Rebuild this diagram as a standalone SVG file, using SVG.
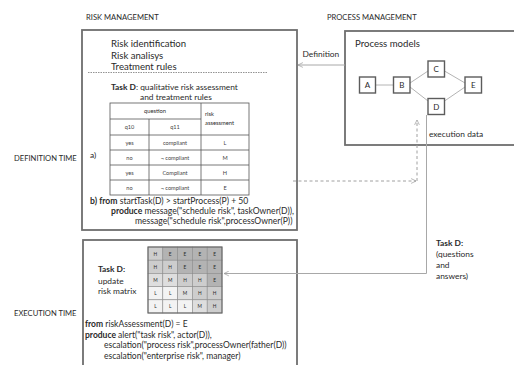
<svg xmlns="http://www.w3.org/2000/svg" width="514" height="365" viewBox="0 0 514 365">
  <defs>
    <style>
      text { font-family: Lato, "Liberation Sans", Arial, sans-serif; fill: #2a2a2a; }
      .cap { font-size: 7.6px; }
      .body { font-size: 9.6px; }
      .code { font-size: 8.6px; }
      .exec { font-size: 8.5px; }
      .small { font-size: 8.4px; }
      .tiny { font-size: 5.8px; text-anchor: middle; }
      .cell { font-size: 5.6px; text-anchor: middle; fill: #444; }
      .b { font-weight: bold; }
      .frame { fill: #fff; stroke: #6e6e6e; stroke-width: 1.8; }
      .node rect { fill: #fff; stroke: #5c5c5c; stroke-width: 1.4; }
      .node text { font-size: 8px; text-anchor: middle; }
      .grid { fill: none; stroke: #555; stroke-width: 0.8; }
      .flow { fill: none; stroke: #a8a8a8; stroke-width: 1; }
      .dash { fill: none; stroke: #a0a0a0; stroke-width: 1; stroke-dasharray: 3 2.5; }
      .edge { fill: none; stroke: #b4b4b4; stroke-width: 1; }
      .E { fill: #b3b3b3; } .H { fill: #cdcdcd; } .M { fill: #dedede; } .L { fill: #f3f3f3; }
      .mx { stroke: #8c8c8c; stroke-width: 0.6; }
    </style>
    <marker id="open" viewBox="0 0 8 8" refX="7.5" refY="4" markerWidth="6" markerHeight="6" orient="auto" markerUnits="userSpaceOnUse">
      <path d="M1,0.8 L7.5,4 L1,7.2" fill="none" stroke="#a0a0a0" stroke-width="1"/>
    </marker>
  </defs>

  <rect width="514" height="365" fill="#fff"/>

  <!-- section headings -->
  <text class="cap" x="86" y="20">RISK MANAGEMENT</text>
  <text class="cap" x="327" y="20">PROCESS MANAGEMENT</text>
  <text class="cap" x="14" y="161">DEFINITION TIME</text>
  <text class="cap" x="14" y="316">EXECUTION TIME</text>

  <!-- risk definition panel -->
  <g id="risk-definition">
    <rect class="frame" x="82" y="30" width="215" height="200"/>
    <text class="body" x="111" y="47">Risk identification</text>
    <text class="body" x="111" y="58.5">Risk analisys</text>
    <text class="body" x="111" y="69.5">Treatment rules</text>
    <line x1="88" y1="72.5" x2="267" y2="72.5" stroke="#777" stroke-width="0.8" stroke-dasharray="1.5 1"/>
    <text class="small" x="111" y="89.5"><tspan class="b">Task D</tspan>: qualitative risk  assessment</text>
    <text class="small" x="140" y="100">and treatment rules</text>

    <!-- a) rule table -->
    <g id="rule-table">
      <rect class="grid" x="110" y="103" width="139" height="92"/>
      <line class="grid" x1="110" y1="119" x2="201" y2="119"/>
      <line class="grid" x1="110" y1="135" x2="249" y2="135"/>
      <line class="grid" x1="110" y1="150" x2="249" y2="150"/>
      <line class="grid" x1="110" y1="165" x2="249" y2="165"/>
      <line class="grid" x1="110" y1="180" x2="249" y2="180"/>
      <line class="grid" x1="149" y1="119" x2="149" y2="195"/>
      <line class="grid" x1="201" y1="103" x2="201" y2="195"/>
      <text class="tiny" x="155" y="113">question</text>
      <text class="tiny" x="205" y="116" style="text-anchor:start">risk</text>
      <text class="tiny" x="205" y="125" style="text-anchor:start">assessment</text>
      <text class="cell" x="129.5" y="129">q10</text>
      <text class="cell" x="175" y="129">q11</text>
      <text class="cell" x="129.5" y="144.5">yes</text>
      <text class="cell" x="175" y="144.5">compliant</text>
      <text class="cell" x="225" y="144.5">L</text>
      <text class="cell" x="129.5" y="159.5">no</text>
      <text class="cell" x="175" y="159.5">¬ compliant</text>
      <text class="cell" x="225" y="159.5">M</text>
      <text class="cell" x="129.5" y="174.5">yes</text>
      <text class="cell" x="175" y="174.5">Compliant</text>
      <text class="cell" x="225" y="174.5">H</text>
      <text class="cell" x="129.5" y="189.5">no</text>
      <text class="cell" x="175" y="189.5">¬ compliant</text>
      <text class="cell" x="225" y="189.5">E</text>
    </g>
    <text class="small" x="90" y="158">a)</text>

    <!-- b) trigger rule -->
    <text class="code" x="90" y="204"><tspan class="b">b)</tspan>  <tspan class="b">from</tspan> startTask(D) &gt; startProcess(P) + 50</text>
    <text class="code" x="111" y="214"><tspan class="b">produce</tspan>  message("schedule risk", taskOwner(D)),</text>
    <text class="code" x="135" y="223.5">message("schedule risk",processOwner(P))</text>
  </g>

  <!-- risk execution panel -->
  <g id="risk-execution">
    <rect class="frame" x="83" y="240" width="214" height="130"/>
    <text class="small b" x="98" y="271.5">Task D:</text>
    <text class="small" x="98" y="283.5">update</text>
    <text class="small" x="98" y="294">risk matrix</text>

    <g id="risk-matrix">
      <rect class="H mx" x="148" y="247" width="14.8" height="13.2"/>
      <rect class="E mx" x="162.8" y="247" width="14.8" height="13.2"/>
      <rect class="E mx" x="177.6" y="247" width="14.8" height="13.2"/>
      <rect class="E mx" x="192.4" y="247" width="14.8" height="13.2"/>
      <rect class="E mx" x="207.2" y="247" width="14.8" height="13.2"/>
      <rect class="H mx" x="148" y="260.2" width="14.8" height="13.2"/>
      <rect class="H mx" x="162.8" y="260.2" width="14.8" height="13.2"/>
      <rect class="E mx" x="177.6" y="260.2" width="14.8" height="13.2"/>
      <rect class="E mx" x="192.4" y="260.2" width="14.8" height="13.2"/>
      <rect class="E mx" x="207.2" y="260.2" width="14.8" height="13.2"/>
      <rect class="M mx" x="148" y="273.4" width="14.8" height="13.2"/>
      <rect class="M mx" x="162.8" y="273.4" width="14.8" height="13.2"/>
      <rect class="H mx" x="177.6" y="273.4" width="14.8" height="13.2"/>
      <rect class="H mx" x="192.4" y="273.4" width="14.8" height="13.2"/>
      <rect class="E mx" x="207.2" y="273.4" width="14.8" height="13.2"/>
      <rect class="L mx" x="148" y="286.6" width="14.8" height="13.2"/>
      <rect class="L mx" x="162.8" y="286.6" width="14.8" height="13.2"/>
      <rect class="M mx" x="177.6" y="286.6" width="14.8" height="13.2"/>
      <rect class="H mx" x="192.4" y="286.6" width="14.8" height="13.2"/>
      <rect class="H mx" x="207.2" y="286.6" width="14.8" height="13.2"/>
      <rect class="L mx" x="148" y="299.8" width="14.8" height="13.2"/>
      <rect class="L mx" x="162.8" y="299.8" width="14.8" height="13.2"/>
      <rect class="L mx" x="177.6" y="299.8" width="14.8" height="13.2"/>
      <rect class="M mx" x="192.4" y="299.8" width="14.8" height="13.2"/>
      <rect class="H mx" x="207.2" y="299.8" width="14.8" height="13.2"/>
      <rect x="148" y="247" width="74" height="66" fill="none" stroke="#666" stroke-width="1.1"/>
      <g class="cell" style="font-size:4.8px">
        <text x="155.4" y="255.5">H</text><text x="170.2" y="255.5">E</text><text x="185" y="255.5">E</text><text x="199.8" y="255.5">E</text><text x="214.6" y="255.5">E</text>
        <text x="155.4" y="268.7">H</text><text x="170.2" y="268.7">H</text><text x="185" y="268.7">E</text><text x="199.8" y="268.7">E</text><text x="214.6" y="268.7">E</text>
        <text x="155.4" y="281.9">M</text><text x="170.2" y="281.9">M</text><text x="185" y="281.9">H</text><text x="199.8" y="281.9">H</text><text x="214.6" y="281.9">E</text>
        <text x="155.4" y="295.1">L</text><text x="170.2" y="295.1">L</text><text x="185" y="295.1">M</text><text x="199.8" y="295.1">H</text><text x="214.6" y="295.1">H</text>
        <text x="155.4" y="308.3">L</text><text x="170.2" y="308.3">L</text><text x="185" y="308.3">L</text><text x="199.8" y="308.3">M</text><text x="214.6" y="308.3">H</text>
      </g>
    </g>

    <text class="exec" x="85" y="327"><tspan class="b">from</tspan> riskAssessment(D) = E</text>
    <text class="exec" x="85" y="337.5"><tspan class="b">produce</tspan>  alert("task risk", actor(D)),</text>
    <text class="exec" x="104" y="348">escalation("process risk",processOwner(father(D))</text>
    <text class="exec" x="104" y="358.5">escalation("enterprise risk", manager)</text>
  </g>

  <!-- process models panel -->
  <g id="process-models">
    <rect class="frame" x="345" y="31" width="180" height="114"/>
    <text class="body" x="355" y="46.5">Process models</text>
    <g id="edges-process">
      <line class="edge" x1="375.5" y1="85" x2="393.5" y2="85"/>
      <line class="edge" x1="410" y1="83" x2="428" y2="71"/>
      <line class="edge" x1="410" y1="87" x2="428" y2="101"/>
      <line class="edge" x1="444.5" y1="71" x2="465" y2="83"/>
      <line class="edge" x1="444.5" y1="101" x2="465" y2="87"/>
    </g>
    <g id="node-A" class="node"><rect x="359.5" y="77" width="16" height="16"/><text x="367.5" y="88">A</text></g>
    <g id="node-B" class="node"><rect x="393.5" y="77" width="16.5" height="16"/><text x="401.8" y="88">B</text></g>
    <g id="node-C" class="node"><rect x="428" y="61" width="16.5" height="16"/><text x="436.2" y="72">C</text></g>
    <g id="node-D" class="node"><rect x="428" y="98.5" width="16.5" height="16"/><text x="436.2" y="109.5">D</text></g>
    <g id="node-E" class="node"><rect x="465" y="77" width="16.5" height="16"/><text x="473.2" y="88">E</text></g>
    <text class="small" x="429" y="136.5">execution data</text>
  </g>

  <!-- connectors -->
  <g id="connectors">
    <line class="flow" x1="345" y1="65" x2="298" y2="65" marker-end="url(#open)"/>
    <text class="small" x="302.5" y="57">Definition</text>
    <path class="flow" d="M426.5,115 V273.5 H224" marker-end="url(#open)" stroke="#9a9a9a"/>
    <path class="dash" d="M293,181 H416" marker-end="url(#open)"/>
    <path class="dash" d="M417,181 V120" marker-end="url(#open)"/>
    <text class="small b" x="436" y="246">Task D:</text>
    <text class="small" x="436" y="257.3">(questions</text>
    <text class="small" x="436" y="268.3">and</text>
    <text class="small" x="436" y="279">answers)</text>
  </g>
</svg>
